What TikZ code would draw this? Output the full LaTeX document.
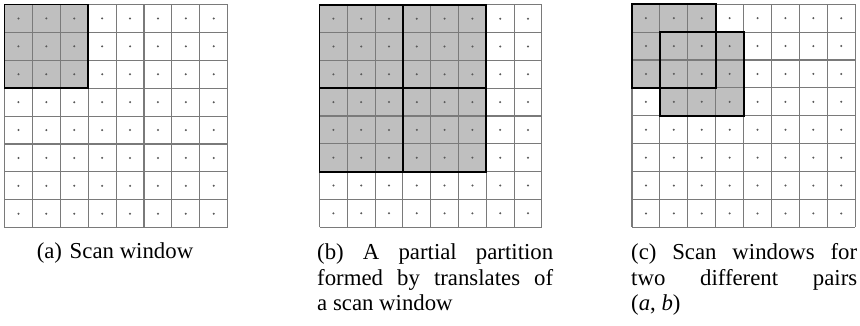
\documentclass[tikz,border=0pt]{standalone}
\usepackage{fontspec}
\setmainfont{Liberation Serif}
\tikzset{
  gridline/.style={draw=black!52,line width=1.15pt},
  winbox/.style={draw=black,line width=1.8pt},
  shadecell/.style={fill=black!25},
  dotmark/.style={fill=black!65},
  captext/.style={inner sep=0pt,font=\fontsize{22.8}{25.5}\selectfont,anchor=base west},
}
\newcommand\mygridlines{%
  \foreach \k in {0,...,8} {\draw[gridline] (\k,0) -- (\k,8); \draw[gridline] (0,\k) -- (8,\k);}
  \foreach \i in {0,...,7} {\foreach \j in {0,...,7} {\fill[dotmark] (\i+0.5,\j+0.5) circle (0.04);}}
}
\begin{document}
\begin{tikzpicture}[x=1pt,y=1pt]
\useasboundingbox[fill=white] (0,0) rectangle (860,-325);
% (a)
\begin{scope}[shift={(4.5,-4.5)},x=27.9pt,y=-27.9pt]
  \fill[shadecell] (0,0) rectangle (3,3);
  \mygridlines
  \draw[winbox] (0,0) rectangle (3,3);
\end{scope}
% (b)
\begin{scope}[shift={(319.5,-4.8)},x=27.8pt,y=-27.8pt]
  \fill[shadecell] (0,0) rectangle (6,6);
  \mygridlines
  \draw[winbox] (0,0) rectangle (3,3);
  \draw[winbox] (3,0) rectangle (6,3);
  \draw[winbox] (0,3) rectangle (3,6);
  \draw[winbox] (3,3) rectangle (6,6);
\end{scope}
% (c)
\begin{scope}[shift={(632,-4.2)},x=27.9pt,y=-27.9pt]
  \fill[shadecell] (0,0) rectangle (3,3);
  \fill[shadecell] (1,1) rectangle (4,4);
  \mygridlines
  \draw[winbox] (0,0) rectangle (3,3);
  \draw[winbox] (1,1) rectangle (4,4);
\end{scope}
% captions
\node[captext,anchor=base] (capa) at (115,-258.5) {(a)\hspace{2pt} Scan window};
\node[captext] (capb1) at (317,-259.5) {\makebox[236pt][s]{(b) A partial partition}};
\node[captext] (capb2) at (317,-285) {\makebox[236pt][s]{formed by translates of}};
\node[captext] (capb3) at (317,-310.5) {a scan window};
\node[captext] (capc1) at (631,-259.5) {\makebox[226pt][s]{(c) Scan windows for}};
\node[captext] (capc2) at (631,-285) {\makebox[226pt][s]{two different pairs}};
\node[captext] (capc3) at (631,-310.5) {(\textit{a}, \textit{b})};
\end{tikzpicture}
\end{document}
